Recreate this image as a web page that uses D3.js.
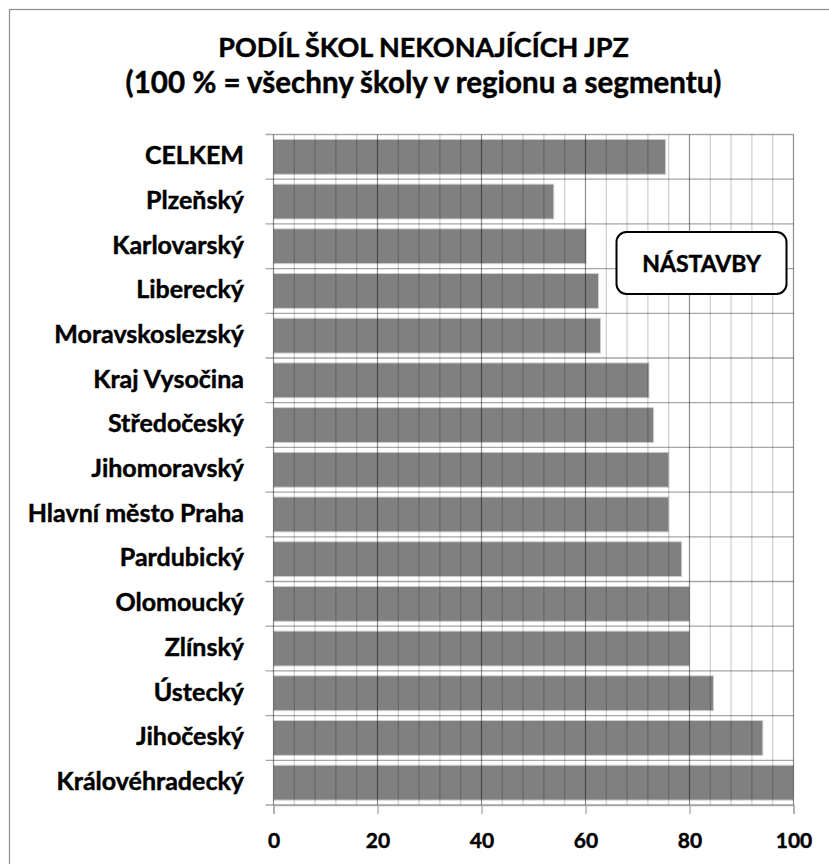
<!DOCTYPE html>
<html>
<head>
<meta charset="utf-8">
<script src="https://cdn.jsdelivr.net/npm/d3@7"></script>
<style>
  html, body { margin: 0; padding: 0; background: #fff; }
  svg { display: block; }
  text { font-family: Lato, "Open Sans", sans-serif; font-weight: bold; fill: #000; stroke: #000; stroke-width: 0.45px; }
</style>
</head>
<body>
<svg id="chart" width="829" height="864"></svg>
<script>
const categories = ["CELKEM", "Plzeňský", "Karlovarský", "Liberecký", "Moravskoslezský",
  "Kraj Vysočina", "Středočeský", "Jihomoravský", "Hlavní město Praha", "Pardubický",
  "Olomoucký", "Zlínský", "Ústecký", "Jihočeský", "Královéhradecký"];
const values = [75.4, 53.9, 60.1, 62.5, 62.9, 72.2, 73.1, 76.0, 76.0, 78.5, 80.0, 80.0, 84.6, 94.1, 100];
const xTicks = [0, 20, 40, 60, 80, 100];
const minorTicks = d3.range(0, 101, 4);
const titleLines = ["PODÍL ŠKOL NEKONAJÍCÍCH JPZ", "(100 % = všechny školy v regionu a segmentu)"];
const boxLabel = "NÁSTAVBY";

const svg = d3.select("#chart");
const margin = {left: 273.5, right: 829 - 793.5, top: 134.5, bottom: 864 - 805};
const W = 829, H = 864;

// outer border
svg.append("rect").attr("x", 9.5).attr("y", 9.5).attr("width", W + 20).attr("height", H + 20)
  .attr("fill", "none").attr("stroke", "#8c8c8c").attr("stroke-width", 1.2);

const x = d3.scaleLinear().domain([0, 100]).range([margin.left, W - margin.right]);
const y = d3.scaleBand().domain(categories).range([margin.top, H - margin.bottom]).paddingInner(0.22).paddingOuter(0.11);
const step = y.step();

// horizontal gridlines at band boundaries
const boundaries = d3.range(categories.length + 1).map(i => margin.top + i * step);
svg.append("g").selectAll("line").data(boundaries).join("line")
  .attr("x1", margin.left - 8).attr("x2", x(100))
  .attr("y1", d => d).attr("y2", d => d)
  .attr("stroke", "#a6a6a6").attr("stroke-width", 1.3);

// bars
svg.append("g").selectAll("rect").data(categories).join("rect")
  .attr("x", x(0)).attr("y", d => y(d))
  .attr("width", (d, i) => x(values[i]) - x(0))
  .attr("height", y.bandwidth())
  .attr("fill", "#808080").attr("stroke", "#d0d0d0").attr("stroke-width", 1);

// vertical gridlines (drawn over bars)
svg.append("g").selectAll("line").data(minorTicks.filter(d => d % 20 !== 0)).join("line")
  .attr("x1", d => x(d)).attr("x2", d => x(d))
  .attr("y1", margin.top).attr("y2", H - margin.bottom)
  .attr("stroke", "#000").attr("stroke-opacity", 0.2).attr("stroke-width", 1.2);
svg.append("g").selectAll("line").data(xTicks).join("line")
  .attr("x1", d => x(d)).attr("x2", d => x(d))
  .attr("y1", margin.top).attr("y2", H - margin.bottom)
  .attr("stroke", "#000").attr("stroke-opacity", 0.45).attr("stroke-width", 1.2);

// x axis
const xAxis = d3.axisBottom(x).tickValues(xTicks).tickSize(9).tickPadding(28).tickFormat(d3.format("d"));
const gx = svg.append("g").attr("transform", `translate(0,${H - margin.bottom})`).call(xAxis);
gx.select(".domain").attr("stroke", "#a6a6a6").attr("stroke-width", 1.3);
gx.selectAll(".tick line").attr("stroke", "#a6a6a6").attr("stroke-width", 1.3);
gx.selectAll(".tick text").attr("dy", 0)
  .style("font-family", "Lato, sans-serif").style("font-weight", "bold").style("font-size", "21px").attr("fill", "#000")
  .attr("y", 848 - (H - margin.bottom));

// y labels
svg.append("g").selectAll("text").data(categories).join("text")
  .attr("x", 244).attr("y", d => y(d) + y.bandwidth() / 2)
  .attr("text-anchor", "end").attr("dy", "0.29em")
  .style("font-size", "25px").text(d => d);

// title
const titleSizes = [27, 29.5];
const titleBaselines = [57, 93];
svg.append("g").selectAll("text").data(titleLines).join("text")
  .attr("x", 423.5).attr("y", (d, i) => titleBaselines[i])
  .attr("text-anchor", "middle").style("font-size", (d, i) => titleSizes[i] + "px").text(d => d);

// NÁSTAVBY box
svg.append("rect").attr("x", 616.5).attr("y", 232).attr("width", 170).attr("height", 62)
  .attr("rx", 10).attr("ry", 10).attr("fill", "#fff").attr("stroke", "#000").attr("stroke-width", 2);
svg.append("text").attr("x", 701.5).attr("y", 264).attr("text-anchor", "middle")
  .attr("dy", "0.36em").style("font-size", "23px").text(boxLabel);
</script>
</body>
</html>
